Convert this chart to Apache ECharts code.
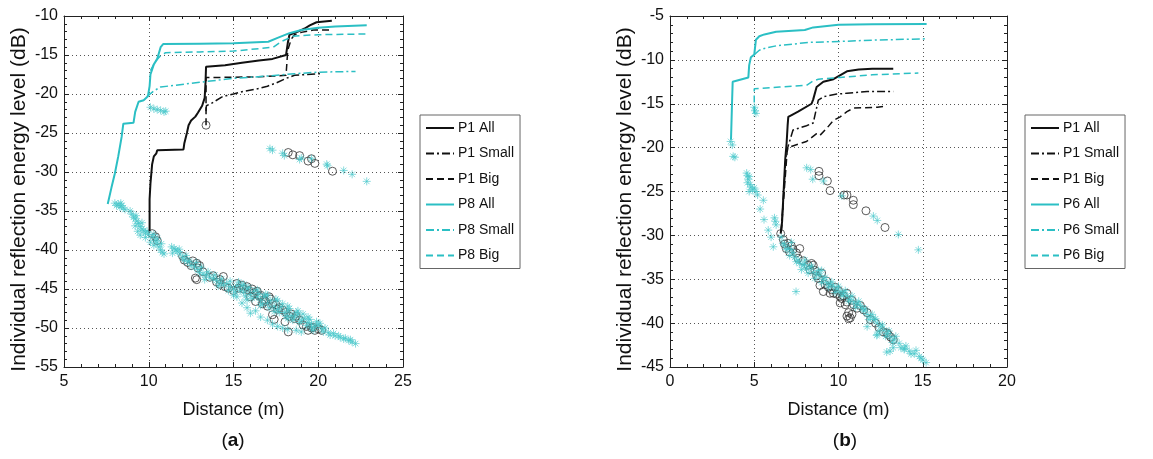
<!DOCTYPE html>
<html>
<head>
<meta charset="utf-8">
<script src="https://cdn.jsdelivr.net/npm/echarts@6/dist/echarts.min.js"></script>
<style>
html,body{margin:0;padding:0;background:#fff;}
#c{width:1153px;height:459px;}
</style>
</head>
<body>
<div id="c"></div>
<script>
// ---------- DATA ----------
const legendA = ['P1 All','P1 Small','P1 Big','P8 All','P8 Small','P8 Big'];
const legendB = ['P1 All','P1 Small','P1 Big','P6 All','P6 Small','P6 Big'];
const xTitle = 'Distance (m)';
const yTitle = 'Individual reflection energy level (dB)';

// Panel (a)
const a_P1All = [[10.05,-37.6],[10.05,-33.5],[10.1,-31.5],[10.2,-29.0],[10.3,-28.0],[10.45,-27.6],[10.5,-27.2],[12.05,-27.1],[12.1,-26.3],[12.25,-25.0],[12.35,-24.0],[12.5,-23.4],[12.75,-22.9],[12.9,-22.4],[13.15,-21.5],[13.3,-20.5],[13.35,-18.5],[13.38,-16.5],[14.5,-16.3],[15.5,-16.0],[16.5,-15.7],[17.3,-15.5],[18.1,-15.0],[18.2,-13.5],[18.3,-12.4],[18.8,-12.0],[19.2,-11.6],[19.5,-11.2],[19.9,-10.8],[20.0,-10.6],[20.8,-10.6]];
const a_P1Small = [[13.38,-22.2],[13.4,-21.5],[13.7,-21.2],[14.0,-20.8],[14.3,-20.4],[14.6,-20.2],[15.0,-20.0],[15.5,-19.7],[16.5,-19.3],[17.0,-19.0],[17.5,-18.6],[18.1,-18.0],[18.6,-17.6],[19.3,-17.5],[20.1,-17.4]];
const a_P1Big = [[13.38,-24.0],[13.38,-17.9],[15.0,-17.85],[16.5,-17.8],[18.1,-17.6],[18.15,-16.0],[18.2,-14.4],[18.4,-13.0],[18.6,-12.4],[19.0,-12.1],[19.7,-11.8],[20.7,-11.8]];
const a_P8All = [[7.58,-34.1],[7.8,-32.0],[8.0,-30.2],[8.2,-28.0],[8.4,-25.5],[8.5,-23.8],[9.1,-23.7],[9.2,-22.3],[9.4,-21.0],[9.7,-20.8],[9.95,-20.3],[10.05,-19.0],[10.1,-17.5],[10.3,-16.2],[10.5,-15.5],[10.7,-14.0],[10.85,-13.6],[13.0,-13.55],[15.0,-13.5],[17.05,-13.3],[17.6,-12.8],[18.3,-12.2],[19.0,-11.8],[20.0,-11.5],[21.0,-11.35],[22.86,-11.2]];
const a_P8Small = [[9.9,-20.3],[10.3,-19.6],[10.7,-19.1],[11.5,-18.9],[13.0,-18.5],[15.0,-18.0],[17.0,-17.7],[18.6,-17.4],[20.0,-17.2],[22.2,-17.1]];
const a_P8Big = [[10.1,-17.0],[10.4,-15.8],[10.7,-15.1],[11.0,-14.7],[13.0,-14.6],[15.0,-14.5],[17.35,-14.0],[17.8,-13.3],[18.5,-12.6],[19.0,-12.5],[20.0,-12.4],[22.86,-12.3]];
const a_P1Pts = [[13.38,-24.0],
[18.23,-27.5],[18.5,-27.8],[18.9,-27.9],[19.4,-28.6],[19.6,-28.3],[19.8,-28.9],[20.84,-29.9],
[10.2,-37.9],[10.4,-38.3],[10.5,-38.8],[12.0,-40.8],[12.1,-41.3],[12.3,-41.6],[12.5,-42.0],[12.6,-41.4],[12.83,-41.7],[12.9,-42.3],[12.83,-43.8],[12.75,-43.6],[13.6,-43.5],[13.8,-43.3],[14.0,-44.1],[14.2,-43.8],[14.4,-43.4],[14.5,-44.7],[14.2,-44.4],[15.2,-44.3],[15.5,-44.5],[15.6,-45.0],[15.8,-44.7],[16.2,-45.5],[16.4,-45.3],[16.8,-46.4],[17.0,-47.2],[17.2,-46.3],[17.5,-47.0],[17.4,-48.9],[17.7,-47.4],[18.04,-49.2],[18.23,-50.5],[18.3,-48.5],[18.6,-48.8],[18.9,-49.0],[19.4,-50.3],[19.6,-50.0],[19.8,-50.3],[20.0,-50.1],[20.2,-50.3],[15.0,-45.2],[16.0,-46.0],[16.6,-45.8],
[15.3,-44.9],[15.9,-45.2],[16.1,-45.0],[16.5,-45.9],[16.9,-46.6],[17.1,-46.0],[17.3,-46.9],[17.6,-47.6],[17.9,-47.7],[18.1,-48.0],[18.4,-48.2],[18.7,-48.5],[19.1,-49.6],[19.3,-49.8],[19.7,-49.9],[17.3,-48.3],[16.3,-46.6],[13.2,-42.8],[13.0,-42.0],[14.7,-44.9],[16.7,-46.9]];
const a_P8Pts = [[8.0,-34.0],[8.1,-34.3],[8.2,-34.1],[8.3,-34.5],[8.4,-34.3],[8.5,-34.6],[8.6,-34.8],[8.35,-34.0],
[9.1,-35.8],[9.2,-36.0],[9.3,-36.3],[9.25,-35.6],[9.4,-36.6],[9.5,-37.0],[9.35,-37.6],[9.5,-38.1],[9.6,-37.3],[9.7,-37.5],[9.8,-37.8],[9.9,-37.6],[10.0,-38.0],[10.2,-38.3],[10.3,-38.0],[10.4,-38.8],[10.5,-39.1],[10.6,-39.6],[10.7,-40.0],[10.8,-40.3],[10.9,-40.5],
[11.35,-39.6],[11.5,-39.8],[11.6,-40.0],[11.7,-40.2],[11.85,-40.5],[12.0,-41.0],[12.1,-41.3],[12.3,-41.5],[12.5,-42.0],[12.7,-42.2],[12.9,-42.5],[13.0,-42.9],[13.2,-43.1],[13.4,-43.2],[13.6,-43.5],[13.8,-43.7],[14.0,-43.9],[14.2,-44.2],[14.4,-44.5],[14.6,-44.3],[14.8,-44.7],[15.0,-45.0],[15.2,-44.6],[15.4,-45.2],[15.5,-44.6],[15.6,-45.4],[15.8,-45.0],[16.0,-45.7],[16.2,-45.3],[16.4,-46.0],[16.6,-46.4],[16.8,-46.0],[17.0,-46.8],[17.2,-46.5],[17.4,-47.2],[17.6,-47.6],[17.8,-47.3],[18.0,-48.0],[18.2,-47.8],[18.4,-48.4],[18.6,-48.6],[18.8,-48.3],[19.0,-49.0],[19.2,-48.8],[19.4,-49.3],[19.6,-49.5],[19.8,-49.8],[20.0,-49.6],[20.2,-50.1],[20.4,-50.0],
[15.2,-46.0],[15.5,-46.8],[15.8,-47.4],[16.0,-48.1],[16.3,-47.8],[16.6,-48.6],[17.0,-49.0],[17.3,-49.5],[17.6,-49.8],[17.9,-50.0],[18.2,-50.2],[18.7,-50.3],[19.0,-50.5],[20.7,-50.9],[21.0,-51.0],[21.3,-51.2],[21.5,-51.4],[21.8,-51.6],[22.0,-51.8],[22.2,-52.0],
[14.8,-44.0],[15.6,-44.4],[16.4,-45.1],[17.0,-45.8],[17.6,-46.5],[18.2,-47.2],[18.8,-47.8],[19.4,-48.6],[19.9,-49.2],
[15.0,-45.8],[15.8,-46.4],[16.6,-47.1],[17.4,-47.9],[18.2,-48.8],[18.9,-49.3],[19.6,-50.0],[20.3,-50.5],
[11.4,-40.4],[11.8,-39.9],[12.2,-40.7],[12.4,-41.4],[12.8,-41.6],[13.1,-42.2],[13.3,-43.8],[13.5,-42.8],[13.9,-43.2],[14.1,-44.6],[14.3,-43.7],[14.7,-45.2],[15.1,-45.4],[15.3,-44.1],[15.7,-45.9],[15.9,-44.8],[16.1,-46.2],[16.5,-45.6],[16.7,-46.9],[16.9,-45.7],[17.1,-47.4],[17.5,-46.3],[17.7,-48.0],[17.9,-46.9],[18.1,-48.5],[18.3,-47.5],[18.5,-49.0],[18.7,-48.0],[19.1,-48.2],[19.3,-49.7],[19.5,-48.9],[19.7,-50.3],[20.1,-49.4],[20.6,-50.6],[20.9,-50.7],[21.2,-51.0],[21.6,-51.3],[21.9,-51.5],[9.0,-35.4],[9.2,-36.9],[9.6,-36.5],[9.8,-38.4],[10.1,-39.0],[10.3,-39.4],[10.5,-38.5],[10.75,-39.2],[8.9,-35.0],
[10.1,-21.7],[10.3,-21.9],[10.5,-22.0],[10.7,-22.1],[10.9,-22.3],[11.0,-22.2],
[17.15,-27.0],[17.3,-27.2],[17.9,-27.6],[18.0,-27.9],[18.9,-28.4],[19.0,-28.2],[19.6,-28.3],[20.5,-29.0],[20.55,-29.2],[21.5,-29.8],[22.0,-30.3],[22.86,-31.2]];

// Panel (b)
const b_P1All = [[6.57,-29.8],[6.65,-28.5],[6.75,-24.7],[6.84,-21.3],[6.92,-19.5],[6.98,-17.5],[7.02,-16.5],[7.3,-16.2],[7.6,-15.9],[8.4,-15.0],[8.5,-14.5],[8.7,-13.1],[9.1,-12.5],[9.7,-12.2],[10.5,-11.3],[11.2,-11.1],[12.0,-11.0],[13.25,-11.0]];
const b_P1Small = [[6.6,-29.6],[6.9,-20.5],[7.0,-19.9],[7.3,-18.0],[8.1,-17.5],[8.5,-17.2],[8.8,-14.6],[9.1,-14.2],[9.9,-13.9],[10.5,-13.8],[11.7,-13.6],[13.25,-13.6]];
const b_P1Big = [[6.6,-29.6],[6.95,-20.5],[7.0,-20.0],[8.1,-19.3],[8.7,-18.4],[8.9,-18.6],[9.3,-17.8],[9.7,-16.9],[10.1,-16.5],[10.5,-15.9],[10.9,-15.5],[12.3,-15.4],[12.7,-15.3]];
const b_P6All = [[3.62,-19.1],[3.68,-15.0],[3.72,-12.5],[4.65,-12.0],[4.7,-10.6],[4.8,-9.7],[5.0,-9.4],[5.1,-7.7],[5.3,-7.3],[5.6,-7.1],[6.3,-6.8],[8.0,-6.6],[8.5,-6.3],[10.0,-6.0],[12.0,-5.95],[15.23,-5.9]];
const b_P6Small = [[5.0,-9.4],[5.3,-8.9],[5.6,-8.7],[6.3,-8.4],[8.3,-8.0],[10.1,-7.9],[12.0,-7.75],[15.23,-7.6]];
const b_P6Big = [[5.0,-16.1],[5.0,-13.3],[6.5,-13.1],[8.1,-12.9],[8.5,-12.4],[8.8,-12.2],[10.1,-12.0],[12.0,-11.7],[14.74,-11.5]];
const b_P1Pts = [[6.57,-29.8],[6.73,-30.5],[6.9,-31.5],[7.3,-31.6],[7.7,-31.5],[7.6,-32.6],[6.8,-31.0],[7.0,-30.9],[7.1,-31.9],
[8.3,-33.9],[8.5,-33.4],[8.4,-33.2],[8.7,-34.6],[8.6,-34.0],[8.9,-35.7],[9.0,-34.3],[9.1,-36.4],[9.3,-35.2],[9.5,-36.6],[9.7,-36.6],[9.8,-35.9],[10.1,-37.0],[10.1,-37.7],[10.3,-36.9],[10.5,-37.6],[10.5,-36.6],[10.8,-37.4],[10.5,-39.2],[10.6,-39.5],[10.8,-39.0],[10.7,-39.4],[11.3,-38.0],[11.7,-38.8],[11.9,-39.6],[12.66,-41.0],[12.86,-41.1],[12.95,-41.3],[13.25,-41.9],
[7.2,-31.2],[7.5,-32.0],[7.9,-32.9],[8.2,-33.4],[8.8,-34.9],[9.2,-35.6],[9.4,-35.9],[9.6,-36.2],[9.9,-36.7],[10.0,-36.3],[10.2,-37.2],[10.4,-37.9],[10.9,-37.9],[11.1,-38.3],[11.5,-38.5],[10.6,-38.8],[12.4,-40.5],[12.2,-40.0],[13.1,-41.6],
[8.84,-22.7],[8.84,-23.2],[9.34,-23.8],[9.5,-24.9],[10.33,-25.4],[10.5,-25.4],[10.88,-26.0],[10.88,-26.5],[11.63,-27.2],[12.76,-29.1]];
const b_P6Pts = [[3.6,-19.3],[3.7,-19.7],[3.75,-21.0],[3.85,-21.1],
[4.55,-22.9],[4.6,-23.2],[4.65,-23.6],[4.7,-23.3],[4.6,-24.0],[4.75,-24.2],[4.8,-24.5],[4.9,-24.8],[5.0,-24.6],[4.7,-25.0],[5.1,-25.0],[5.2,-25.4],[5.54,-26.0],[5.35,-27.0],[5.58,-28.2],[6.2,-28.0],[6.25,-28.4],[6.3,-28.8],[5.83,-29.4],[6.0,-30.2],[6.13,-31.3],
[5.0,-15.4],[5.05,-15.8],[5.1,-16.1],
[8.11,-22.3],[8.35,-22.5],[8.47,-23.6],[9.1,-23.8],[10.2,-25.5],[12.07,-27.8],[12.3,-28.3],[13.55,-29.9],[14.74,-31.65],
[6.6,-30.2],[6.8,-31.1],[7.0,-31.5],[7.1,-32.3],[7.3,-32.0],[7.5,-33.0],[7.7,-33.2],[7.9,-33.4],[8.1,-33.8],[8.3,-33.6],[8.5,-34.2],[8.7,-34.4],[8.9,-34.6],[9.1,-35.0],[9.3,-35.4],[9.5,-35.6],[9.7,-35.8],[9.9,-36.1],[10.1,-36.4],[10.3,-36.6],[10.5,-36.9],[10.7,-37.3],[10.9,-37.6],[11.1,-37.8],[11.3,-38.0],[11.5,-38.6],[11.7,-39.0],[11.9,-39.3],[12.1,-39.6],[12.3,-40.0],[12.5,-40.4],[12.7,-40.8],[12.9,-41.2],[13.1,-41.6],[13.3,-41.9],[13.6,-42.3],[13.9,-43.0],[14.2,-43.2],[14.5,-43.5],[14.8,-43.8],[15.0,-44.2],[15.2,-44.5],
[6.7,-30.9],[6.9,-31.6],[7.2,-31.6],[7.4,-32.5],[7.6,-32.8],[7.8,-33.9],[8.0,-33.3],[8.2,-34.3],[8.4,-33.5],[8.6,-34.9],[8.8,-34.0],[9.0,-35.4],[9.2,-34.8],[9.4,-35.9],[9.6,-35.3],[9.8,-36.5],[10.0,-35.8],[10.2,-36.9],[10.4,-36.3],[10.6,-37.5],[10.8,-36.9],[11.0,-38.2],[11.2,-37.5],[11.4,-38.3],[11.6,-38.4],[11.8,-39.6],[12.0,-39.0],[12.2,-39.5],[12.4,-40.9],[12.6,-40.2],[12.8,-41.5],[13.0,-40.9],[13.2,-42.2],[13.4,-41.5],[13.7,-42.8],[14.0,-42.6],[14.3,-43.5],[14.6,-43.1],[14.9,-44.0],
[7.48,-36.4],[12.27,-41.4],[12.86,-43.3],[13.06,-43.2],[13.25,-42.8],[13.9,-42.9],[11.7,-40.4],[12.3,-41.3],[7.2,-30.8],[8.0,-32.8],[9.0,-34.0]];

// ---------- STYLE ----------
const BLACK = '#111';
const CYAN = '#2bbfc4';
const STAR = 'rgba(70,198,202,0.8)';
const FONT = 'Liberation Sans, Arial, sans-serif';
const DASH = [7,4];
const DASHDOT = [8,3,2,3];
const STAR_PATH = 'path://M4,0L4,8M0,4L8,4M1.2,1.2L6.8,6.8M6.8,1.2L1.2,6.8';

function xAx(grid, min, max, pos, labels) {
  return {
    type:'value', gridIndex:grid, min:min, max:max, interval:5, position:pos,
    name: labels ? xTitle : '', nameLocation:'middle', nameGap:34,
    nameTextStyle:{fontFamily:FONT, fontSize:18, color:BLACK},
    axisLine:{show:true, onZero:false, lineStyle:{color:'#222', width:1}},
    axisTick:{show:true, inside:true, length:5, lineStyle:{color:'#222'}},
    minorTick:{show:true, splitNumber:5, length:3, lineStyle:{color:'#222'}},
    axisLabel:{show:labels, fontFamily:FONT, fontSize:16, color:BLACK, margin:7},
    splitLine:{show:labels, lineStyle:{color:'#555', type:[1,3], width:1}}
  };
}
function yAx(grid, min, max, pos, labels) {
  return {
    type:'value', gridIndex:grid, min:min, max:max, interval:5, position:pos,
    name: labels ? yTitle : '', nameLocation:'middle', nameGap:34,
    nameTextStyle:{fontFamily:FONT, fontSize:21, color:BLACK, padding:[0,16,0,0]},
    axisLine:{show:true, onZero:false, lineStyle:{color:'#222', width:1}},
    axisTick:{show:true, inside:true, length:5, lineStyle:{color:'#222'}},
    minorTick:{show:true, splitNumber:5, length:3, lineStyle:{color:'#222'}},
    axisLabel:{show:labels, fontFamily:FONT, fontSize:16, color:BLACK, margin:6},
    splitLine:{show:labels, lineStyle:{color:'#555', type:[1,3], width:1}}
  };
}
function line(name, data, xi, color, type, width) {
  return {name:name, type:'line', xAxisIndex:xi, yAxisIndex:xi, data:data, showSymbol:false, symbol:'none',
    lineStyle:{color:color, type:type, width:width}, itemStyle:{color:color}, silent:true, z:3};
}
function pts(data, xi, star) {
  return star ?
    {type:'scatter', xAxisIndex:xi, yAxisIndex:xi, data:data, symbol:STAR_PATH, symbolSize:8, silent:true, z:2,
     itemStyle:{color:'rgba(0,0,0,0)', borderColor:STAR, borderWidth:1}} :
    {type:'scatter', xAxisIndex:xi, yAxisIndex:xi, data:data, symbol:'circle', symbolSize:8, silent:true, z:1,
     itemStyle:{color:'rgba(0,0,0,0)', borderColor:'#333', borderWidth:1}};
}
function legend(names, left) {
  return {data:names, orient:'vertical', left:left, top:115, itemWidth:28, itemHeight:14, itemGap:11.5,
    padding:[6,6,6,5], borderColor:'#666', borderWidth:1, backgroundColor:'#fff', selectedMode:false,
    itemStyle:{opacity:0},
    textStyle:{fontFamily:FONT, fontSize:14, color:BLACK, padding:[0,0,0,-1]}};
}

const chart = echarts.init(document.getElementById('c'), null, {renderer:'canvas'});
chart.setOption({
  animation:false,
  backgroundColor:'#fff',
  grid:[{left:64, top:16, width:339, height:351}, {left:670, top:16, width:337, height:351}],
  xAxis:[xAx(0,5,25,'bottom',true), xAx(0,5,25,'top',false), xAx(1,0,20,'bottom',true), xAx(1,0,20,'top',false)],
  yAxis:[yAx(0,-55,-10,'left',true), yAx(0,-55,-10,'right',false), yAx(1,-45,-5,'left',true), yAx(1,-45,-5,'right',false)],
  legend:[legend(legendA, 420), legend(legendB, 1025)],
  series:[
    pts(a_P1Pts,0,false), pts(a_P8Pts,0,true),
    line(legendA[0], a_P1All, 0, BLACK, 'solid', 2),
    line(legendA[1], a_P1Small, 0, BLACK, DASHDOT, 1.5),
    line(legendA[2], a_P1Big, 0, BLACK, DASH, 1.5),
    line(legendA[3], a_P8All, 0, CYAN, 'solid', 2),
    line(legendA[4], a_P8Small, 0, CYAN, DASHDOT, 1.5),
    line(legendA[5], a_P8Big, 0, CYAN, DASH, 1.5),
    pts(b_P1Pts,2,false), pts(b_P6Pts,2,true),
    line(legendB[0], b_P1All, 2, BLACK, 'solid', 2),
    line(legendB[1], b_P1Small, 2, BLACK, DASHDOT, 1.5),
    line(legendB[2], b_P1Big, 2, BLACK, DASH, 1.5),
    line(legendB[3], b_P6All, 2, CYAN, 'solid', 2),
    line(legendB[4], b_P6Small, 2, CYAN, DASHDOT, 1.5),
    line(legendB[5], b_P6Big, 2, CYAN, DASH, 1.5)
  ],
  graphic:[
    {type:'text', x:233, y:441, style:{text:'{n|(}{b|a}{n|)}', align:'center', verticalAlign:'middle',
      rich:{n:{fontFamily:FONT, fontSize:19, fill:BLACK}, b:{fontFamily:FONT, fontSize:19, fontWeight:'bold', fill:BLACK}}}},
    {type:'text', x:845, y:441, style:{text:'{n|(}{b|b}{n|)}', align:'center', verticalAlign:'middle',
      rich:{n:{fontFamily:FONT, fontSize:19, fill:BLACK}, b:{fontFamily:FONT, fontSize:19, fontWeight:'bold', fill:BLACK}}}}
  ]
});
</script>
</body>
</html>
